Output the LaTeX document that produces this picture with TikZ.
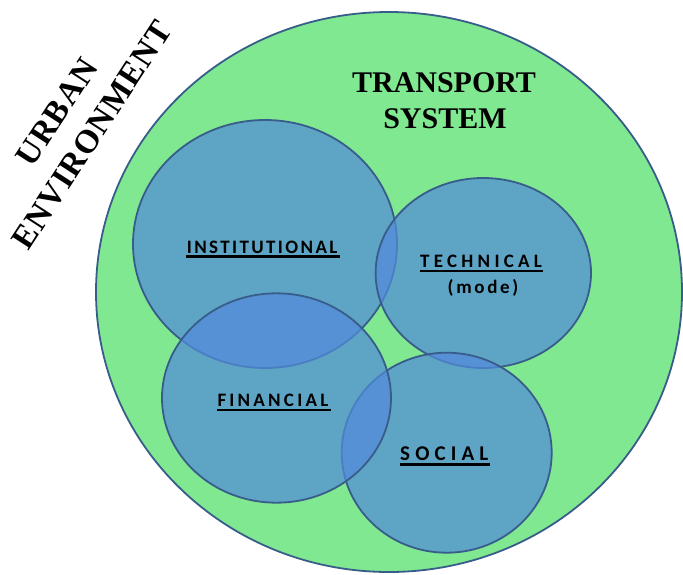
\documentclass[tikz,border=0pt]{standalone}
\usepackage{fontspec}
\setmainfont{Liberation Serif}
\newfontfamily\lblfont{Carlito}
\definecolor{envgreen}{RGB}{128,232,144}
\definecolor{circblue}{RGB}{82,139,218}
\definecolor{edgeblue}{RGB}{56,93,138}
\tikzset{
  outerarea/.style={draw=edgeblue, line width=1.8pt, fill=envgreen},
  area/.style={draw=edgeblue, line width=1.8pt, fill=circblue, fill opacity=0.72},
  heading/.style={font=\bfseries\fontsize{30}{36}\selectfont, text=black, inner sep=0, anchor=base},
  envtext/.style={font=\bfseries\fontsize{33}{42}\selectfont, rotate=57, inner sep=0, text=black},
  lbl/.style={inner sep=0, anchor=base west, text=black},
  uline/.style={line width=2.4pt, black}
}
\begin{document}
\begin{tikzpicture}[x=1pt,y=-1pt]
\useasboundingbox (0,0) rectangle (683,574);
% transport system
\draw[outerarea] (389,292) ellipse [x radius=293, y radius=280];
% sub systems
\draw[area] (265,244) ellipse [x radius=132, y radius=124];
\draw[area] (483.3,273) ellipse [x radius=107.7, y radius=95];
\draw[area] (446.7,452.7) ellipse [x radius=105, y radius=100];
\draw[area] (276.5,398) ellipse [x radius=114.5, y radius=104.7];
% headings
\node[heading] (ts1) at (444,92.7) {TRANSPORT};
\node[heading] (ts2) at (445,128.3) {SYSTEM};
\node[envtext] (ue1) at (57,112) {\addfontfeature{LetterSpace=3}URBAN};
\node[envtext] (ue2) at (92,135) {\addfontfeature{LetterSpace=3}ENVIRONMENT};
% labels
\node[lbl, font=\lblfont\bfseries\fontsize{19}{22}\selectfont] (inst) at (186.7,253) {\addfontfeature{LetterSpace=12.5}INSTITUTIONAL};
\node[lbl, font=\lblfont\bfseries\fontsize{19}{22}\selectfont] (tech) at (420,267.7) {\addfontfeature{LetterSpace=22.5}TECHNICAL};
\node[inner sep=0, anchor=base, font=\lblfont\bfseries\fontsize{19}{22}\selectfont] (mode) at (483,293.3) {\addfontfeature{LetterSpace=14}(mode)};
\node[lbl, font=\lblfont\bfseries\fontsize{19}{22}\selectfont] (fin) at (217.3,406) {\addfontfeature{LetterSpace=17}FINANCIAL};
\node[lbl, font=\lblfont\bfseries\fontsize{21}{24}\selectfont] (soc) at (400,460) {\addfontfeature{LetterSpace=24.5}SOCIAL};
% underlines
\draw[uline] ([xshift=-0.5pt,yshift=-3.6pt]inst.base west) -- ([xshift=2pt,yshift=-3.6pt]inst.base east);
\draw[uline] ([xshift=-0.5pt,yshift=-3.2pt]tech.base west) -- ([xshift=1pt,yshift=-3.2pt]tech.base east);
\draw[uline] ([xshift=-0.5pt,yshift=-4pt]fin.base west) -- ([xshift=2pt,yshift=-4pt]fin.base east);
\draw[uline, line width=2.8pt] ([xshift=-0.5pt,yshift=-4.5pt]soc.base west) -- ([xshift=1pt,yshift=-4.5pt]soc.base east);
\end{tikzpicture}
\end{document}
